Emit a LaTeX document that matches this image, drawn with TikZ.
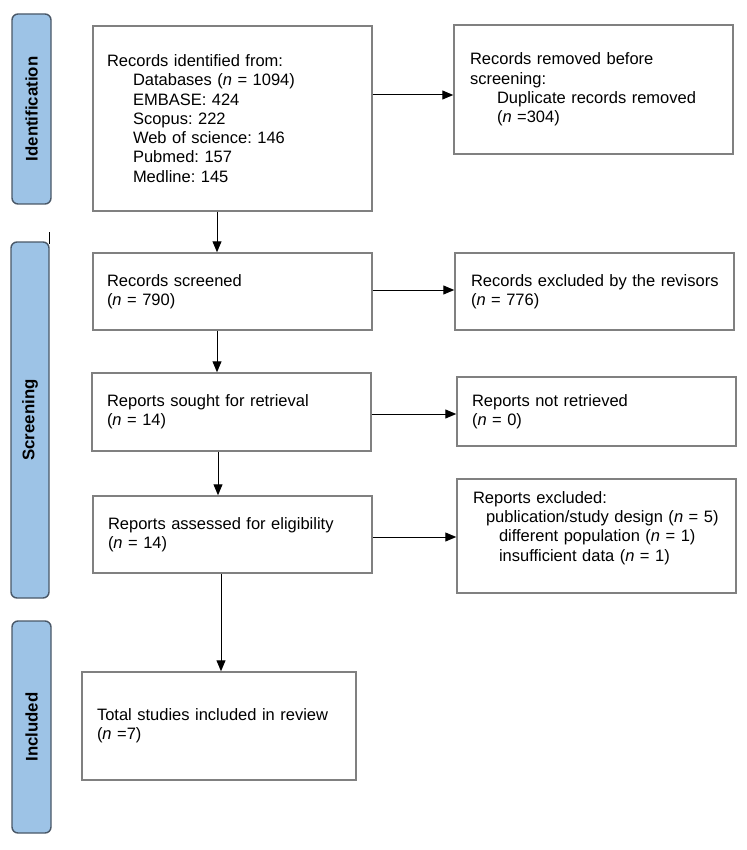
\documentclass[tikz,border=0pt]{standalone}
\usepackage{fontspec}
\setmainfont{Liberation Sans}
\usetikzlibrary{arrows.meta,calc}
\definecolor{barfill}{HTML}{9DC3E6}
\definecolor{barline}{HTML}{4A5868}
\definecolor{boxline}{HTML}{808080}
\newcommand{\ind}{\hspace*{26pt}}
\newcommand{\nn}{\textit{n}}
\frenchspacing
\hyphenpenalty=10000
\begin{document}
\begin{tikzpicture}[x=1pt,y=-1pt,
  txt/.style={font=\fontsize{16.5}{19.3}\selectfont\frenchspacing},
  box/.style={txt,draw=boxline,line width=1.5pt,rectangle,align=left,inner ysep=2pt,anchor=center},
  bar/.style={draw=barline,fill=barfill,line width=1.4pt,rounded corners=6pt,rectangle,inner sep=0pt},
  barlabel/.style={rotate=90,font=\fontsize{16.8}{19}\selectfont\bfseries},
  arr/.style={line width=1pt,-{Triangle[length=11pt,width=9pt]}}]
\useasboundingbox (0,0) rectangle (746,850);
\fill[white] (0,0) rectangle (746,850);
% phase bars
\node[bar,minimum width=39pt,minimum height=190pt] (bid) at (31.5,109) {};
\node[barlabel] (lid) at (bid.center) {Identification};
\node[bar,minimum width=38pt,minimum height=356pt] (bsc) at (30,420) {};
\node[barlabel] (lsc) at (bsc.center) {Screening};
\node[bar,minimum width=39pt,minimum height=212pt] (bin) at (31.5,727) {};
\node[barlabel] (lin) at (bin.center) {Included};
\draw[line width=0.8pt] (49,232) -- (49,244);
% boxes
\node[box,minimum height=185pt,inner xsep=14pt,text width=251pt] (ident) at (232.5,118.5)
  {Records identified from:\\
   \ind Databases (\nn{} = 1094)\\
   \ind EMBASE: 424\\
   \ind Scopus: 222\\
   \ind Web of science: 146\\
   \ind Pubmed: 157\\
   \ind Medline: 145};
\node[box,minimum height=129pt,inner xsep=16pt,text width=247pt] (removed) at (593.5,89.5)
  {Records removed before\\
   screening:\\
   \hspace*{27pt}Duplicate records removed\\
   \hspace*{27pt}(\nn{} =304)};
\node[box,minimum height=77pt,inner xsep=14pt,text width=251pt] (screened) at (232.5,291.5)
  {Records screened\\(\nn{} = 790)};
\node[box,minimum height=77pt,inner xsep=16pt,text width=247pt] (excluded) at (594.5,291.5)
  {\mbox{Records excluded by the revisors}\\(\nn{} = 776)};
\node[box,minimum height=78pt,inner xsep=15pt,text width=249pt] (sought) at (231.5,412)
  {Reports sought for retrieval\\(\nn{} = 14)};
\node[box,minimum height=69pt,inner xsep=15pt,text width=249pt] (notret) at (596.5,411.5)
  {Reports not retrieved\\(\nn{} = 0)};
\node[box,minimum height=77pt,inner xsep=15pt,text width=249pt] (assessed) at (232.5,534.5)
  {Reports assessed for eligibility\\(\nn{} = 14)};
\node[box,minimum height=114pt,inner xsep=16pt,text width=247pt] (rexcl) at (596.5,536)
  {Reports excluded:\\
   \hspace*{13pt}publication/study design (\nn{} = 5)\\
   \ind different population (\nn{} = 1)\\
   \ind insufficient data (\nn{} = 1)\\
   \mbox{}};
\node[box,minimum height=108pt,inner xsep=15pt,text width=244pt] (total) at (219,726)
  {Total studies included in review\\(\nn{} =7)};
% connectors
\draw[arr] ([yshift=23.5pt]ident.east) -- ([yshift=23.5pt]ident.east -| removed.west);
\draw[arr] ([xshift=-15.5pt]ident.south) -- ([xshift=-15.5pt]ident.south |- screened.north);
\draw[arr] ([yshift=1.5pt]screened.east) -- ([yshift=1.5pt]screened.east -| excluded.west);
\draw[arr] ([xshift=-15.5pt]screened.south) -- ([xshift=-15.5pt]screened.south |- sought.north);
\draw[arr] ([yshift=-2pt]sought.east) -- ([yshift=-2pt]sought.east -| notret.west);
\draw[arr] ([xshift=-13.5pt]sought.south) -- ([xshift=-13.5pt]sought.south |- assessed.north);
\draw[arr] ([yshift=-2.5pt]assessed.east) -- ([yshift=-2.5pt]assessed.east -| rexcl.west);
\draw[arr] ([xshift=-11.5pt]assessed.south) -- ([xshift=-11.5pt]assessed.south |- total.north);
\end{tikzpicture}
\end{document}
